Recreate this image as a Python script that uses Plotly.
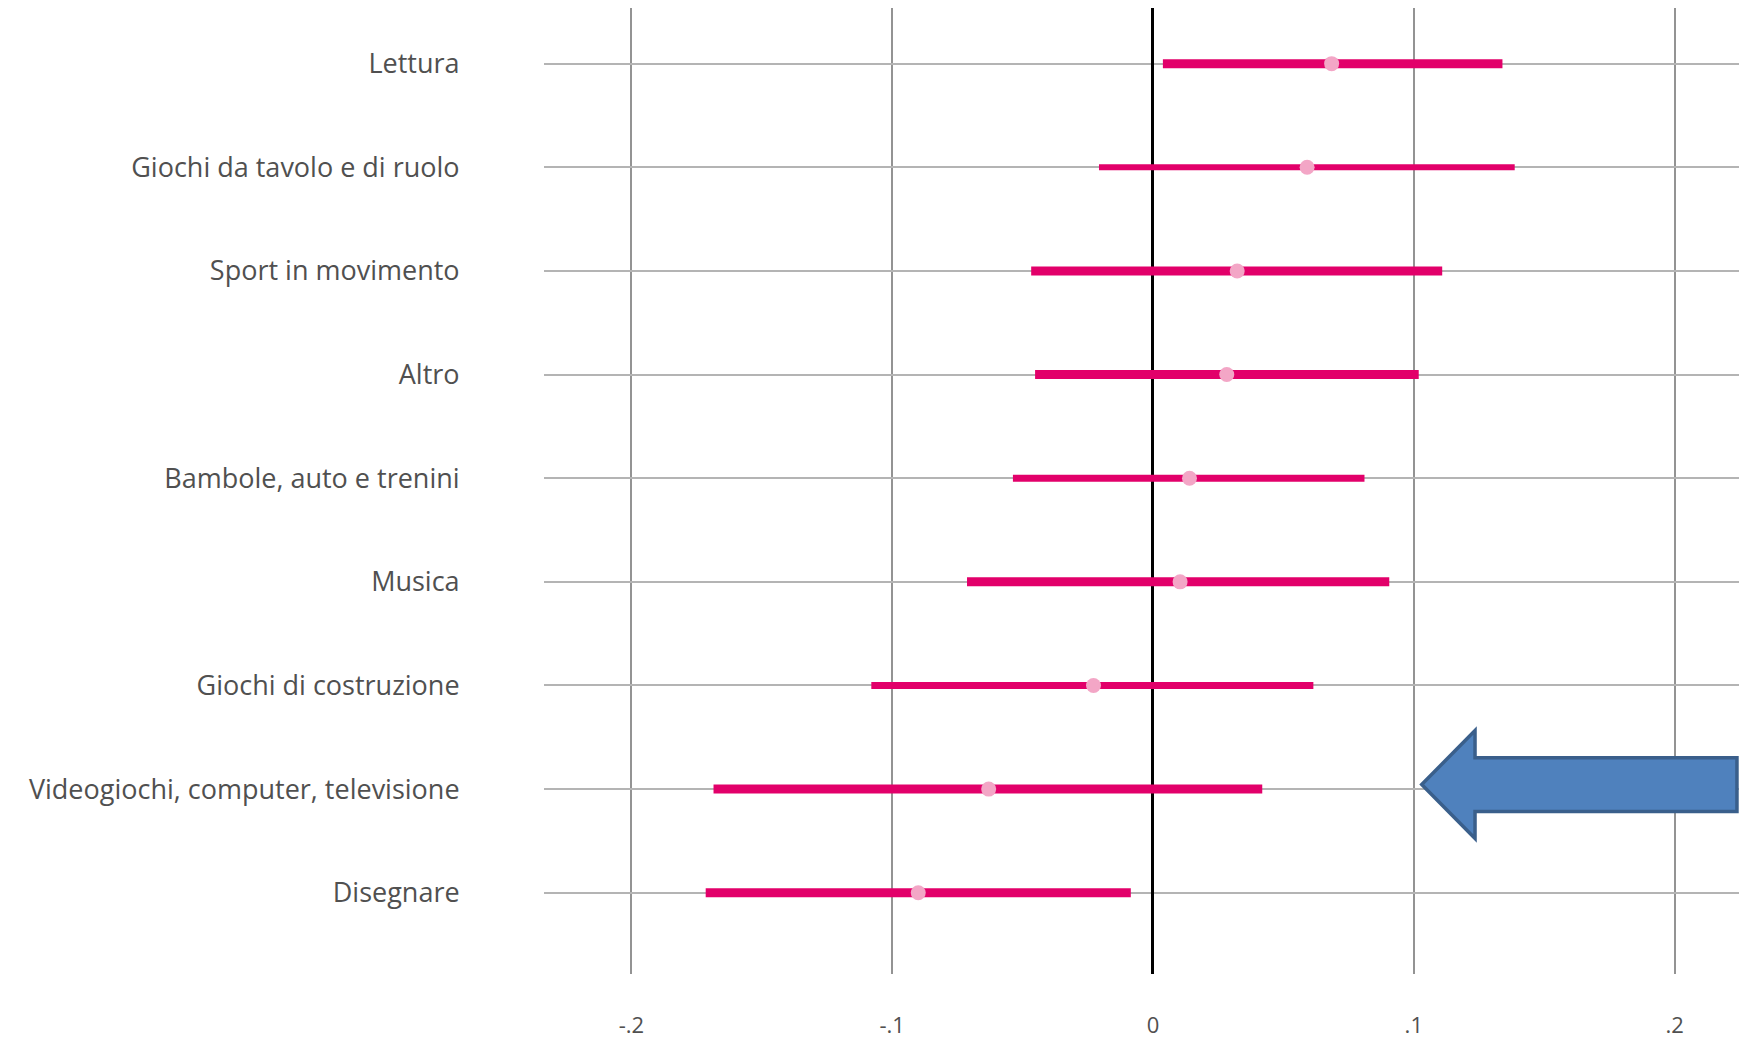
import plotly.graph_objects as go

categories = ["Lettura", "Giochi da tavolo e di ruolo", "Sport in movimento", "Altro",
              "Bambole, auto e trenini", "Musica", "Giochi di costruzione",
              "Videogiochi, computer, televisione", "Disegnare"]
estimate = [0.0685, 0.0591, 0.0323, 0.0283, 0.0140, 0.0104, -0.0228, -0.0630, -0.0900]
ci_low = [0.0038, -0.0207, -0.0467, -0.0452, -0.0537, -0.0713, -0.1080, -0.1685, -0.1715]
ci_high = [0.1340, 0.1387, 0.1109, 0.1019, 0.0811, 0.0906, 0.0615, 0.0419, -0.0085]
bar_width = [9, 6, 9, 9, 7, 9, 7, 9, 9]
x_tickvals = [-0.2, -0.1, 0, 0.1, 0.2]
x_ticktext = ["-.2", "-.1", "0", ".1", ".2"]

BAR = "#E2006A"
DOT = "#F3A6C6"
TXT = "#505050"

W, H = 1739, 1039
ML, MR, MT, MB = 544, 0, 8, 62

fig = go.Figure()
for c, lo, hi, w in zip(categories, ci_low, ci_high, bar_width):
    fig.add_trace(go.Scatter(x=[lo, hi], y=[c, c], mode="lines",
                             line=dict(color=BAR, width=w), hoverinfo="skip",
                             showlegend=False))
fig.add_trace(go.Scatter(x=estimate, y=categories, mode="markers",
                         marker=dict(color=DOT, size=15, line=dict(width=0)),
                         showlegend=False))

# arrow (paper coordinates)
pw = W - ML - MR
ph = H - MT - MB
def px(x): return (x - ML) / pw
def py(y): return (H - MB - y) / ph
pts = [(1421.7, 787.0), (1475, 732.7), (1475, 760), (1737, 760), (1737, 814),
       (1475, 814), (1475, 841)]
path = "M " + " L ".join(f"{px(a):.4f},{py(b):.4f}" for a, b in pts) + " Z"
fig.add_shape(type="path", path=path, xref="paper", yref="paper",
              fillcolor="#4F81BD", line=dict(color="#3A5F8B", width=3.5), layer="above")

fig.update_layout(
    width=W, height=H,
    margin=dict(l=ML, r=MR, t=MT, b=MB, pad=0),
    paper_bgcolor="white", plot_bgcolor="white",
    font=dict(family="Open Sans", color=TXT, size=23),
    xaxis=dict(range=[-0.2335, 0.2247], tickvals=x_tickvals, ticktext=x_ticktext,
               showgrid=True, gridcolor="#939393", gridwidth=1.5,
               zeroline=True, zerolinecolor="#000000", zerolinewidth=3,
               showline=False, ticks="outside", ticklen=32, tickcolor="rgba(0,0,0,0)",
               tickfont=dict(size=22, color=TXT)),
    yaxis=dict(type="category", categoryorder="array", categoryarray=categories,
               range=[8.784, -0.537], showgrid=True, gridcolor="#B4B4B4", gridwidth=2,
               zeroline=False, showline=False, ticks="outside", ticklen=78,
               tickcolor="rgba(0,0,0,0)", tickfont=dict(size=27, color=TXT)),
)
fig.write_html("out.html")
